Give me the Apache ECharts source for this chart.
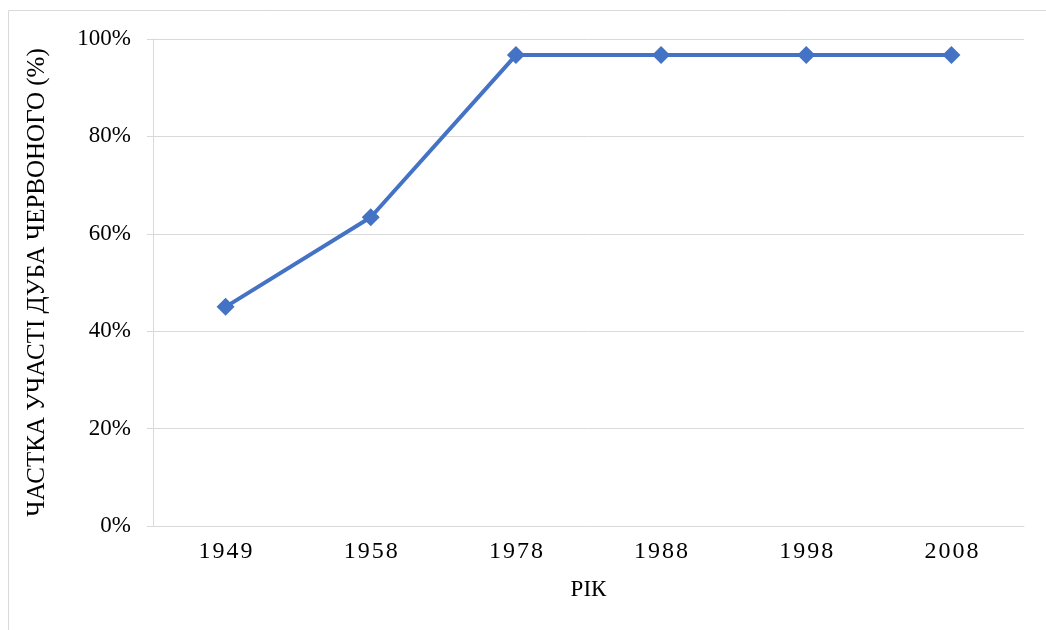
<!DOCTYPE html>
<html>
<head>
<meta charset="utf-8">
<script src="https://cdn.jsdelivr.net/npm/echarts@6/dist/echarts.min.js"></script>
<style>
  html, body { margin: 0; padding: 0; background: #fff; }
  #chart { width: 1046px; height: 630px; }
</style>
</head>
<body>
<div id="chart"></div>
<script>
const years = ['1949', '1958', '1978', '1988', '1998', '2008'];
const oakShare = [45, 63.4, 96.7, 96.7, 96.7, 96.7];
const yTicks = { min: 0, max: 100, step: 20 };

const font = 'Liberation Serif';
const gridColor = '#d9d9d9';

const chart = echarts.init(document.getElementById('chart'));
chart.setOption({
  animation: false,
  textStyle: { fontFamily: font },
  graphic: [
    {
      type: 'rect',
      shape: { x: 8.5, y: 10.5, width: 1100, height: 700 },
      style: { fill: 'none', stroke: gridColor, lineWidth: 1 }
    }
  ],
  grid: { left: 153, right: 22, top: 39, bottom: 104 },
  xAxis: {
    type: 'category',
    data: years,
    boundaryGap: true,
    name: 'РІК',
    nameLocation: 'middle',
    nameGap: 52,
    nameTextStyle: { fontFamily: font, fontSize: 23, color: '#000' },
    axisLine: { lineStyle: { color: gridColor, width: 1 } },
    axisTick: { show: false },
    axisLabel: {
      fontFamily: font,
      fontSize: 24,
      color: '#000',
      margin: 14,
      formatter: v => v.split('').join('\u200A')
    }
  },
  yAxis: {
    type: 'value',
    min: yTicks.min,
    max: yTicks.max,
    interval: yTicks.step,
    name: 'ЧАСТКА УЧАСТІ ДУБА ЧЕРВОНОГО (%)',
    nameLocation: 'middle',
    nameGap: 103,
    nameTextStyle: { fontFamily: font, fontSize: 25, color: '#000' },
    axisLine: { show: true, lineStyle: { color: gridColor, width: 1 } },
    axisTick: { show: true, length: 6, lineStyle: { color: gridColor } },
    splitLine: { lineStyle: { color: gridColor, width: 1 } },
    axisLabel: {
      fontFamily: font,
      fontSize: 23,
      color: '#000',
      margin: 22,
      formatter: '{value}%'
    }
  },
  series: [
    {
      type: 'line',
      data: oakShare,
      symbol: 'diamond',
      symbolSize: 18,
      lineStyle: { color: '#4472C4', width: 4 },
      itemStyle: { color: '#4472C4' }
    }
  ]
});
</script>
</body>
</html>
